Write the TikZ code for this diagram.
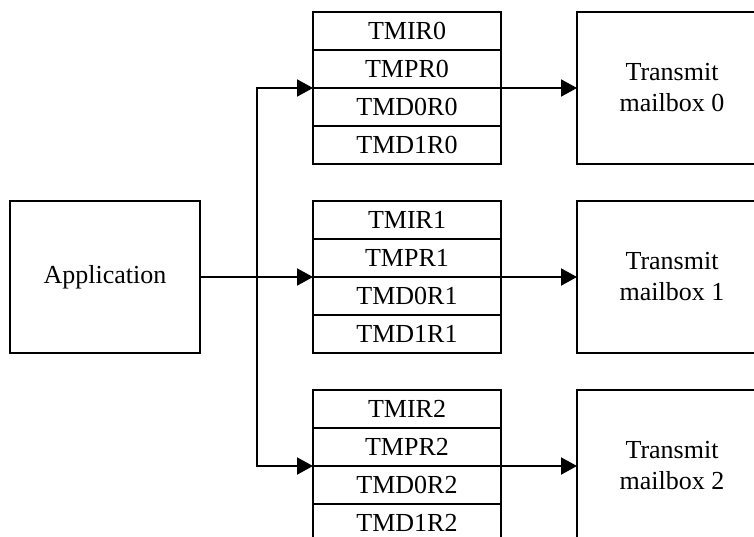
\documentclass[tikz,border=0pt]{standalone}
\usepackage{fontspec}
\setmainfont{Liberation Serif}
\usetikzlibrary{arrows.meta}
\begin{document}
\begin{tikzpicture}[x=1pt,y=-1pt,
  box/.style={draw,line width=2pt,inner sep=0pt,outer sep=0pt,font=\fontsize{26}{31}\selectfont,align=center},
  reg/.style={box,minimum width=188pt,minimum height=38pt,anchor=north},
  mbox/.style={box,minimum width=190pt,minimum height=152pt,anchor=west},
  wire/.style={line width=2pt},
  conn/.style={wire,-{Triangle[length=16pt,width=17pt]}}]
\clip (0,0) rectangle (754,536);
\node[box,minimum width=190pt,minimum height=152pt] (app) at (105,277) {Application};
\foreach \i/\t in {0/12,1/201,2/390} {
  \node[reg] (s\i r1) at (407,\t) {TMIR\i};
  \node[reg] (s\i r2) at (s\i r1.south) {TMPR\i};
  \node[reg] (s\i r3) at (s\i r2.south) {TMD0R\i};
  \node[reg] (s\i r4) at (s\i r3.south) {TMD1R\i};
  \node[mbox] (m\i) at (577,\t+76) {Transmit\\mailbox \i};
  \draw[conn] (s\i r2.south east) -- (m\i.west);
}
\coordinate (split) at (257,277);
\draw[wire] (app.east) -- (split);
\draw[conn] (split) -- (s1r2.south west);
\draw[conn] (split) |- (s0r2.south west);
\draw[conn] (split) |- (s2r2.south west);
\end{tikzpicture}
\end{document}
